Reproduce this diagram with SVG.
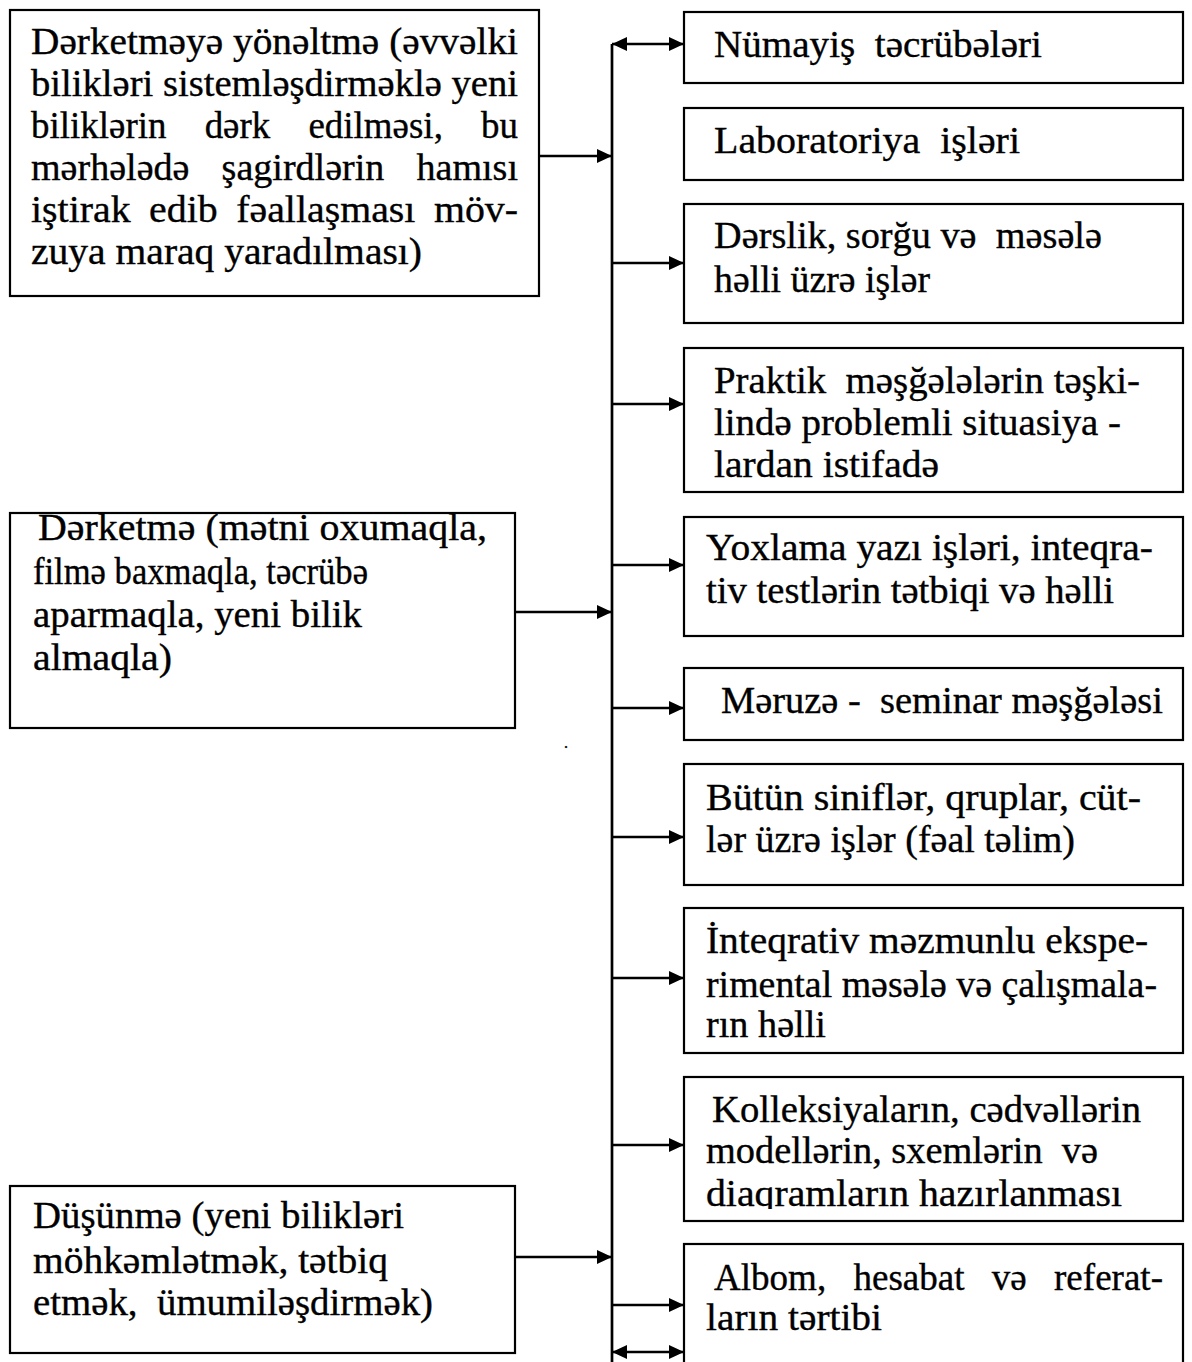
<svg xmlns="http://www.w3.org/2000/svg" width="1192" height="1362" viewBox="0 0 1192 1362">
<style>
rect.box{fill:#fff;stroke:#000;stroke-width:2.2}
text{font-family:"Liberation Serif","Times New Roman","DejaVu Serif",serif;font-size:37px;fill:#000;stroke:#000;stroke-width:0.35;white-space:pre}
.c{stroke:#000;stroke-width:2.7;fill:none}
</style>
<defs>
<marker id="ah" viewBox="0 0 15 14" refX="15" refY="7" markerWidth="15" markerHeight="14" markerUnits="userSpaceOnUse" orient="auto-start-reverse">
<path d="M0,0 L15,7 L0,14 z" fill="#000"/>
</marker>
<clipPath id="clip9"><rect x="690" y="1080" width="490" height="129"/></clipPath>
</defs>
<rect width="1192" height="1362" fill="#fff"/>

<g id="connectors">
<line class="c" x1="612" y1="44" x2="612" y2="1362"/>
<line class="c" x1="612" y1="44" x2="684" y2="44" marker-start="url(#ah)" marker-end="url(#ah)"/>
<line class="c" x1="539" y1="156" x2="612" y2="156" marker-end="url(#ah)"/>
<line class="c" x1="515" y1="612" x2="612" y2="612" marker-end="url(#ah)"/>
<line class="c" x1="515" y1="1257" x2="612" y2="1257" marker-end="url(#ah)"/>
<line class="c" x1="612" y1="263" x2="684" y2="263" marker-end="url(#ah)"/>
<line class="c" x1="612" y1="404" x2="684" y2="404" marker-end="url(#ah)"/>
<line class="c" x1="612" y1="565" x2="684" y2="565" marker-end="url(#ah)"/>
<line class="c" x1="612" y1="708" x2="684" y2="708" marker-end="url(#ah)"/>
<line class="c" x1="612" y1="837" x2="684" y2="837" marker-end="url(#ah)"/>
<line class="c" x1="612" y1="978" x2="684" y2="978" marker-end="url(#ah)"/>
<line class="c" x1="612" y1="1145" x2="684" y2="1145" marker-end="url(#ah)"/>
<line class="c" x1="612" y1="1305" x2="684" y2="1305" marker-end="url(#ah)"/>
<line class="c" x1="612" y1="1352" x2="684" y2="1352" marker-start="url(#ah)" marker-end="url(#ah)"/>
</g>

<g id="left1">
<rect class="box" x="10" y="10" width="529" height="286"/>
<text x="31" y="54" textLength="487" lengthAdjust="spacingAndGlyphs">Dərketməyə yönəltmə (əvvəlki</text>
<text x="31" y="96" textLength="487" lengthAdjust="spacingAndGlyphs">bilikləri sistemləşdirməklə yeni</text>
<text x="31" y="138" textLength="487" lengthAdjust="spacingAndGlyphs" style="word-spacing:29px">biliklərin dərk edilməsi, bu</text>
<text x="31" y="180" textLength="487" lengthAdjust="spacingAndGlyphs" style="word-spacing:22px">mərhələdə şagirdlərin hamısı</text>
<text x="31" y="222" textLength="487" lengthAdjust="spacingAndGlyphs" style="word-spacing:8px">iştirak edib fəallaşması möv-</text>
<text x="31" y="264" textLength="391" lengthAdjust="spacingAndGlyphs">zuya maraq yaradılması)</text>
</g>

<g id="left2">
<rect class="box" x="10" y="513" width="505" height="215"/>
<text x="38" y="540" textLength="449" lengthAdjust="spacingAndGlyphs">Dərketmə (mətni oxumaqla,</text>
<text x="33" y="584" textLength="335" lengthAdjust="spacingAndGlyphs">filmə baxmaqla, təcrübə</text>
<text x="33" y="627" textLength="329" lengthAdjust="spacingAndGlyphs">aparmaqla, yeni bilik</text>
<text x="33" y="670" textLength="139" lengthAdjust="spacingAndGlyphs">almaqla)</text>
</g>

<g id="left3">
<rect class="box" x="10" y="1186" width="505" height="167"/>
<text x="33" y="1228" textLength="371" lengthAdjust="spacingAndGlyphs">Düşünmə (yeni bilikləri</text>
<text x="33" y="1273" textLength="355" lengthAdjust="spacingAndGlyphs">möhkəmlətmək, tətbiq</text>
<text x="33" y="1315" textLength="400" lengthAdjust="spacingAndGlyphs">etmək,  ümumiləşdirmək)</text>
</g>

<text x="564" y="748" style="font-size:16px">.</text>

<g id="r1">
<rect class="box" x="684" y="12" width="499" height="71"/>
<text x="714" y="57" textLength="328" lengthAdjust="spacingAndGlyphs">Nümayiş  təcrübələri</text>
</g>
<g id="r2">
<rect class="box" x="684" y="108" width="499" height="72"/>
<text x="714" y="153" textLength="306" lengthAdjust="spacingAndGlyphs">Laboratoriya  işləri</text>
</g>
<g id="r3">
<rect class="box" x="684" y="204" width="499" height="119"/>
<text x="714" y="248" textLength="388" lengthAdjust="spacingAndGlyphs">Dərslik, sorğu və  məsələ</text>
<text x="714" y="292" textLength="216" lengthAdjust="spacingAndGlyphs">həlli üzrə işlər</text>
</g>
<g id="r4">
<rect class="box" x="684" y="348" width="499" height="144"/>
<text x="714" y="393" textLength="426" lengthAdjust="spacingAndGlyphs">Praktik  məşğələlərin təşki-</text>
<text x="714" y="435" textLength="407" lengthAdjust="spacingAndGlyphs">lində problemli situasiya -</text>
<text x="714" y="477" textLength="225" lengthAdjust="spacingAndGlyphs">lardan istifadə</text>
</g>
<g id="r5">
<rect class="box" x="684" y="517" width="499" height="119"/>
<text x="706" y="560" textLength="447" lengthAdjust="spacingAndGlyphs">Yoxlama yazı işləri, inteqra-</text>
<text x="706" y="603" textLength="408" lengthAdjust="spacingAndGlyphs">tiv testlərin tətbiqi və həlli</text>
</g>
<g id="r6">
<rect class="box" x="684" y="668" width="499" height="72"/>
<text x="721" y="713" textLength="442" lengthAdjust="spacingAndGlyphs">Məruzə -  seminar məşğələsi</text>
</g>
<g id="r7">
<rect class="box" x="684" y="764" width="499" height="121"/>
<text x="706" y="810" textLength="435" lengthAdjust="spacingAndGlyphs">Bütün siniflər, qruplar, cüt-</text>
<text x="706" y="852" textLength="369" lengthAdjust="spacingAndGlyphs">lər üzrə işlər (fəal təlim)</text>
</g>
<g id="r8">
<rect class="box" x="684" y="908" width="499" height="145"/>
<text x="706" y="953" textLength="442" lengthAdjust="spacingAndGlyphs">İnteqrativ məzmunlu ekspe-</text>
<text x="706" y="997" textLength="451" lengthAdjust="spacingAndGlyphs">rimental məsələ və çalışmala-</text>
<text x="706" y="1037" textLength="120" lengthAdjust="spacingAndGlyphs">rın həlli</text>
</g>
<g id="r9">
<rect class="box" x="684" y="1077" width="499" height="144"/>
<text x="712" y="1122" textLength="429" lengthAdjust="spacingAndGlyphs">Kolleksiyaların, cədvəllərin</text>
<text x="706" y="1163" textLength="392" lengthAdjust="spacingAndGlyphs">modellərin, sxemlərin  və</text>
<text x="706" y="1206" textLength="416" lengthAdjust="spacingAndGlyphs" clip-path="url(#clip9)">diaqramların hazırlanması</text>
</g>
<g id="r10">
<rect class="box" x="684" y="1244" width="499" height="130"/>
<text x="714" y="1290" textLength="449" lengthAdjust="spacingAndGlyphs" style="word-spacing:18px">Albom, hesabat və referat-</text>
<text x="706" y="1330" textLength="176" lengthAdjust="spacingAndGlyphs">ların tərtibi</text>
</g>
</svg>
